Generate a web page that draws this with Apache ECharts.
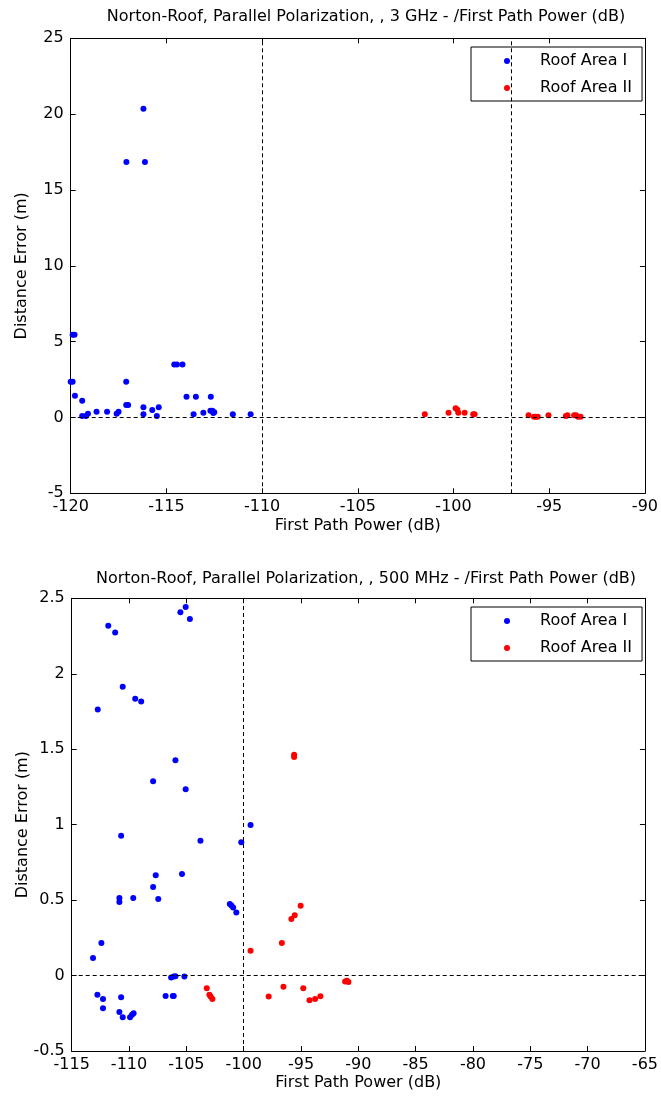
<!DOCTYPE html>
<html>
<head>
<meta charset="utf-8">
<script src="https://cdn.jsdelivr.net/npm/echarts@6/dist/echarts.min.js"></script>
<style>
html,body{margin:0;padding:0;background:#fff;}
#c{width:661px;height:1102px;}
</style>
</head>
<body>
<div id="c"></div>
<script>
// ---------- DATA ----------
const titleTop = "Norton-Roof, Parallel Polarization, , 3 GHz - /First Path Power (dB)";
const titleBottom = "Norton-Roof, Parallel Polarization, , 500 MHz - /First Path Power (dB)";
const xName = "First Path Power (dB)";
const yName = "Distance Error (m)";
const seriesNames = ["Roof Area I", "Roof Area II"];

// 3 GHz chart: [first path power (dB), distance error (m)]
const top_area1 = [
  [-119.9,5.45],[-119.8,5.45],[-120.0,2.35],[-119.9,2.35],[-119.78,1.44],[-119.4,1.11],
  [-119.4,0.1],[-119.2,0.1],[-119.1,0.25],[-118.65,0.37],[-118.1,0.37],[-117.6,0.25],
  [-117.5,0.37],[-117.1,2.35],[-117.1,0.82],[-117.0,0.82],[-116.2,0.67],[-116.2,0.22],
  [-115.74,0.49],[-115.5,0.1],[-115.4,0.67],[-114.59,3.5],[-114.45,3.5],[-114.16,3.5],
  [-113.95,1.37],[-113.46,1.37],[-113.58,0.22],[-113.07,0.31],[-112.68,1.37],[-112.7,0.45],
  [-112.6,0.45],[-112.5,0.35],[-112.55,0.3],[-111.53,0.22],[-110.6,0.22],
  [-116.2,20.35],[-117.09,16.84],[-116.12,16.84]
];
const top_area2 = [
  [-101.5,0.22],[-100.26,0.31],[-99.89,0.6],[-99.8,0.51],[-99.75,0.31],[-99.42,0.31],
  [-98.97,0.22],[-98.9,0.22],[-96.08,0.15],[-95.8,0.05],[-95.7,0.05],[-95.6,0.05],
  [-95.04,0.15],[-94.13,0.1],[-94.05,0.15],[-93.7,0.15],[-93.6,0.15],[-93.5,0.05],[-93.36,0.05]
];
// 500 MHz chart
const bot_area1 = [
  [-113.14,0.117],[-112.41,0.215],[-112.76,-0.128],[-112.27,-0.155],[-112.27,-0.217],
  [-110.84,0.514],[-110.84,0.487],[-109.63,0.514],[-107.9,0.587],[-107.45,0.507],
  [-110.69,-0.144],[-110.84,-0.241],[-110.55,-0.276],[-109.91,-0.276],[-109.74,-0.26],
  [-109.6,-0.25],[-106.81,-0.135],[-106.18,-0.135],[-106.1,-0.135],[-106.33,-0.013],
  [-106.1,-0.007],[-105.95,-0.004],[-105.17,-0.007],[-101.21,0.474],[-101.07,0.465],
  [-100.92,0.451],[-100.64,0.418],[-105.95,1.427],[-107.9,1.287],[-105.06,1.234],
  [-110.69,0.927],[-103.77,0.894],[-100.21,0.883],[-99.4,0.998],[-107.67,0.664],
  [-105.38,0.673],[-111.81,2.318],[-111.21,2.274],[-110.55,1.914],[-109.46,1.834],
  [-108.94,1.816],[-112.73,1.763],[-105.52,2.407],[-105.06,2.442],[-104.69,2.362]
];
const bot_area2 = [
  [-103.22,-0.084],[-102.99,-0.128],[-102.88,-0.139],[-102.73,-0.155],[-99.4,0.164],
  [-97.82,-0.139],[-96.67,0.215],[-96.53,-0.075],[-95.84,0.374],[-95.55,0.4],
  [-95.03,0.462],[-94.8,-0.084],[-94.26,-0.163],[-93.77,-0.155],[-93.31,-0.137],
  [-91.15,-0.04],[-91.0,-0.035],[-90.86,-0.042],[-95.6,1.464],[-95.6,1.449]
];
// axis ranges / ticks
const topX = {min:-120, max:-90, interval:5};
const topY = {min:-5, max:25, interval:5};
const botX = {min:-115, max:-65, interval:5};
const botY = {min:-0.5, max:2.5, interval:0.5};
// reference lines
const topVLines = [-110, -97];
const botVLines = [-100];
const hLine = 0;

// ---------- CHART ----------
const FONT = "'DejaVu Sans', Verdana, sans-serif";
const FS = 16;
const chart = echarts.init(document.getElementById('c'), null, {renderer:'canvas'});

const grids = [
  {left:70.7, top:38.3, width:581, height:455},
  {left:71.7, top:598.3, width:580, height:452.7}
];

function mainX(gi, r, gap){
  return {gridIndex:gi, type:'value', min:r.min, max:r.max, interval:r.interval, position:'bottom',
    axisLine:{show:true, onZero:false, lineStyle:{color:'#000', width:1}},
    axisTick:{show:true, inside:true, length:5, lineStyle:{color:'#000'}},
    axisLabel:{show:true, margin:6, color:'#000', fontFamily:FONT, fontSize:FS},
    splitLine:{show:false},
    name:xName, nameLocation:'middle', nameGap:gap, nameMoveOverlap:false,
    nameTextStyle:{color:'#000', fontFamily:FONT, fontSize:FS}};
}
function mirrorX(gi, r){
  return {gridIndex:gi, type:'value', min:r.min, max:r.max, interval:r.interval, position:'top',
    axisLine:{show:true, onZero:false, lineStyle:{color:'#000', width:1}},
    axisTick:{show:true, inside:true, length:5, lineStyle:{color:'#000'}},
    axisLabel:{show:false}, splitLine:{show:false}};
}
function mainY(gi, r){
  return {gridIndex:gi, type:'value', min:r.min, max:r.max, interval:r.interval, position:'left',
    axisLine:{show:true, onZero:false, lineStyle:{color:'#000', width:1}},
    axisTick:{show:true, inside:true, length:5, lineStyle:{color:'#000'}},
    axisLabel:{show:true, margin:7, color:'#000', fontFamily:FONT, fontSize:FS},
    splitLine:{show:false},
    name:yName, nameLocation:'middle', nameGap:41, nameMoveOverlap:false,
    nameTextStyle:{color:'#000', fontFamily:FONT, fontSize:FS}};
}
function mirrorY(gi, r){
  return {gridIndex:gi, type:'value', min:r.min, max:r.max, interval:r.interval, position:'right',
    axisLine:{show:true, onZero:false, lineStyle:{color:'#000', width:1}},
    axisTick:{show:true, inside:true, length:5, lineStyle:{color:'#000'}},
    axisLabel:{show:false}, splitLine:{show:false}};
}

const dashStyle = {color:'#000', width:1, type:[4,3]};
function refLines(vlines){
  const d = vlines.map(v => ({xAxis:v}));
  d.push({yAxis:hLine});
  return {silent:true, symbol:['none','none'], label:{show:false}, animation:false,
    lineStyle:dashStyle, emphasis:{disabled:true}, data:d};
}

function scatter(name, data, xi, yi, color, ml){
  const s = {name:name, type:'scatter', xAxisIndex:xi, yAxisIndex:yi, data:data,
    symbol:'circle', symbolSize:6, itemStyle:{color:color, opacity:1}, animation:false,
    emphasis:{disabled:true}};
  if(ml) s.markLine = ml;
  return s;
}

function legend(top){
  return {show:true, orient:'vertical', left:471, top:top,
    data:seriesNames.map(n=>({name:n, icon:'circle'})),
    itemWidth:6, itemHeight:6, itemGap:11,
    padding:[6,10,5,33],
    borderColor:'#000', borderWidth:1, backgroundColor:'#fff',
    textStyle:{color:'#000', fontFamily:FONT, fontSize:FS, padding:[0,0,0,25]},
    selectedMode:false};
}

const option = {
  backgroundColor:'#fff',
  animation:false,
  title:[
    {text:titleTop, left:361, top:4, textAlign:'center',
      textStyle:{color:'#000', fontWeight:'normal', fontFamily:FONT, fontSize:FS}},
    {text:titleBottom, left:361, top:566, textAlign:'center',
      textStyle:{color:'#000', fontWeight:'normal', fontFamily:FONT, fontSize:FS}}
  ],
  grid:grids,
  xAxis:[mainX(0, topX, 25), mirrorX(0, topX), mainX(1, botX, 24), mirrorX(1, botX)],
  yAxis:[mainY(0, topY), mirrorY(0, topY), mainY(1, botY), mirrorY(1, botY)],
  legend:[legend(47), legend(607)],
  series:[
    scatter(seriesNames[0], top_area1, 0, 0, '#0000FF', refLines(topVLines)),
    scatter(seriesNames[1], top_area2, 0, 0, '#FF0000'),
    scatter(seriesNames[0], bot_area1, 2, 2, '#0000FF', refLines(botVLines)),
    scatter(seriesNames[1], bot_area2, 2, 2, '#FF0000')
  ]
};
chart.setOption(option);
</script>
</body>
</html>
